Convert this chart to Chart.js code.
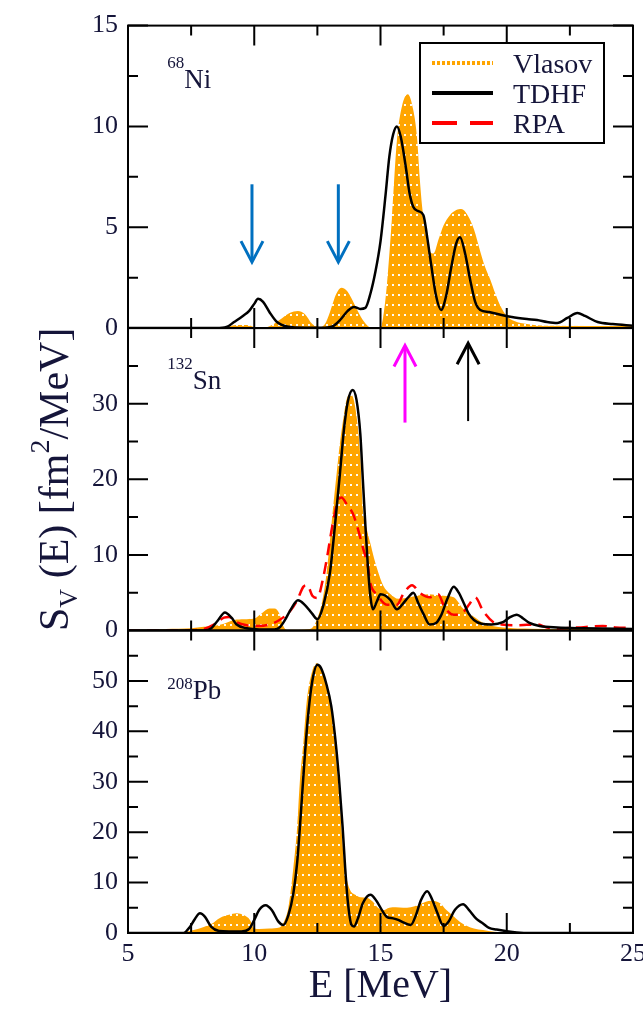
<!DOCTYPE html>
<html><head><meta charset="utf-8">
<script src="https://cdn.jsdelivr.net/npm/chart.js@4.4.1/dist/chart.umd.min.js"></script>
<style>html,body{margin:0;padding:0;background:#fff;}#wrap{width:643px;height:1010px;position:relative}</style>
</head><body><div id="wrap"><canvas id="c" width="643" height="1010"></canvas></div>
<script>
// ---------- DATA ----------
// x axis ticks (E in MeV)
const xTicks = [5, 10, 15, 20, 25];
// y tick labels per panel
const yTicksNi = [0, 5, 10, 15];
const yTicksSn = [0, 10, 20, 30];
const yTicksPb = [0, 10, 20, 30, 40, 50];

// 68Ni
const niTdhfE = [5.0,8.5,8.9,9.2,9.55,9.8,10.0,10.15,10.35,10.6,10.9,11.3,12.0,12.8,13.1,13.4,13.7,13.95,14.2,14.4,14.6,14.8,15.0,15.2,15.35,15.5,15.65,15.8,16.0,16.15,16.3,16.5,16.7,16.85,17.0,17.2,17.4,17.6,17.8,18.0,18.15,18.35,18.55,18.75,18.95,19.3,19.8,20.2,20.8,21.2,21.6,22.0,22.4,22.8,23.1,23.6,24.2,25.0];
const niTdhf  = [0,0,0.05,0.3,0.6,0.85,1.2,1.45,1.3,0.8,0.3,0.08,0.02,0.02,0.08,0.4,0.85,1.05,0.95,1.0,1.7,2.8,4.3,6.6,8.5,9.6,10.0,9.5,8.0,6.7,6.0,5.8,5.6,4.5,3.2,1.6,0.9,1.6,3.0,4.2,4.5,3.7,2.4,1.3,0.9,0.8,0.65,0.55,0.45,0.4,0.3,0.25,0.5,0.75,0.6,0.3,0.2,0.12];
const niVlasovE = [5.0,8.5,8.9,9.3,9.7,10.0,10.4,10.7,11.0,11.4,11.73,12.0,12.3,12.6,12.8,13.0,13.25,13.45,13.7,14.0,14.3,14.6,15.0,15.1,15.25,15.45,15.65,15.85,16.08,16.3,16.45,16.55,16.65,16.8,16.95,17.1,17.3,17.5,17.75,18.0,18.2,18.45,18.7,18.95,19.15,19.35,19.55,19.75,20.0,20.3,20.8,21.5,25.0];
const niVlasov  = [0,0,0.05,0.15,0.15,0.05,0.02,0.15,0.4,0.75,0.85,0.7,0.2,0.05,0.2,0.8,1.7,2.0,1.8,1.1,0.4,0.05,0.05,0.5,2.1,5.4,9.3,11.0,11.6,10.8,9.4,7.5,6.0,4.6,3.8,3.7,4.4,5.1,5.6,5.85,5.9,5.6,4.9,3.8,3.0,2.4,1.7,1.1,0.6,0.35,0.2,0.12,0.1];

// 132Sn
const snTdhfE = [5.0,8.0,8.3,8.55,8.84,9.1,9.3,9.7,10.2,10.8,11.0,11.2,11.45,11.73,12.0,12.3,12.5,12.75,13.0,13.2,13.4,13.55,13.7,13.9,14.05,14.2,14.3,14.4,14.5,14.6,14.7,14.85,15.0,15.2,15.4,15.65,15.9,16.1,16.3,16.5,16.7,16.95,17.2,17.4,17.65,17.9,18.1,18.3,18.5,18.7,19.0,19.4,19.85,20.1,20.4,20.65,20.9,21.3,22.0,23.0,25.0];
const snTdhf  = [0,0.02,0.3,1.3,2.4,1.7,0.8,0.3,0.15,0.15,0.4,1.3,2.8,4.0,3.4,2.2,1.5,3.5,7.7,14,21,26.5,30.2,31.8,30.5,26,20,14,8.5,4.5,2.8,3.8,4.8,4.6,4.0,2.8,3.6,4.4,5.0,3.6,2.2,0.8,1.0,2.0,4.2,5.8,5.0,3.6,2.2,1.4,0.9,0.8,1.1,1.7,2.1,1.6,1.0,0.6,0.4,0.3,0.2];
const snRpaE = [5.0,7.5,8.0,8.4,8.8,9.0,9.3,9.7,10.2,10.6,11.0,11.4,11.7,11.95,12.1,12.3,12.5,12.7,12.9,13.1,13.3,13.45,13.7,13.9,14.1,14.3,14.5,14.6,14.85,15.25,15.65,15.9,16.25,16.55,16.95,17.28,17.55,17.9,18.27,18.5,18.75,19.06,19.47,19.8,20.25,20.8,21.2,21.6,22.0,22.8,23.8,24.3,25.0];
const snRpa  = [0,0.05,0.2,0.8,1.7,1.8,1.1,0.7,0.6,0.8,1.4,2.5,4.0,5.8,6.0,4.6,4.3,6.5,10.0,14.0,17.0,17.6,16.5,15.5,13.5,11.0,8.5,6.2,4.8,3.4,3.4,4.8,6.0,5.0,4.4,4.8,3.0,2.1,2.4,3.4,4.4,2.6,1.1,0.8,0.7,0.75,0.8,0.4,0.25,0.4,0.6,0.4,0.35];
const snVlasovE = [5.0,6.5,7.5,8.0,8.4,8.8,9.2,9.6,10.0,10.3,10.6,10.8,11.0,11.15,11.3,12.2,12.45,12.7,12.87,13.0,13.13,13.27,13.4,13.55,13.66,13.83,14.0,14.19,14.3,14.45,14.6,14.75,14.9,15.1,15.4,15.7,16.0,16.3,16.6,16.9,17.2,17.5,17.9,18.27,18.67,19.14,19.85,21.0,22.0,25.0];
const snVlasov  = [0.05,0.2,0.3,0.5,0.6,0.9,1.4,1.5,1.6,2.3,2.9,2.9,2.2,0.6,0.1,0.2,1.2,4.0,7.7,12,16.5,21,25,28.5,30.6,31.2,29.5,23.5,16,13.5,11.5,9.5,7.8,6.0,4.8,4.2,4.3,4.5,4.7,4.8,4.7,4.6,4.4,2.9,1.9,0.9,0.4,0.25,0.2,0.2];

// 208Pb
const pbTdhfE = [5.0,7.2,7.45,7.65,7.85,8.05,8.3,8.6,9.0,9.5,9.8,10.0,10.2,10.45,10.7,10.95,11.15,11.35,11.55,11.7,11.85,12.0,12.15,12.3,12.5,12.65,12.85,13.05,13.2,13.35,13.5,13.6,13.7,13.85,13.95,14.1,14.3,14.6,14.85,15.05,15.25,15.5,15.7,15.9,16.2,16.4,16.6,16.85,17.05,17.25,17.5,17.7,17.95,18.27,18.5,18.8,19.06,19.3,19.6,20.0,20.4,21.0,25.0];
const pbTdhf  = [0,0,1.2,2.8,3.9,3.2,1.2,0.4,0.3,0.3,0.8,2.6,4.6,5.5,4.5,2.3,1.6,3.5,7.9,14,24,35,44,50,53.2,52.5,49.5,45,39,31,21,13,6.5,1.6,1.3,2.8,5.9,7.6,6.3,4.6,3.2,2.9,2.6,2.1,1.6,3.5,6.5,8.3,6.6,4.0,1.4,2.3,4.6,5.7,4.6,2.8,1.9,1.0,0.7,0.35,0.1,0,0];
const pbVlasovE = [5.0,6.8,7.2,7.6,8.0,8.3,8.64,9.0,9.3,9.6,9.83,10.0,10.2,10.6,11.0,11.2,11.35,11.55,11.7,11.8,11.95,12.08,12.3,12.48,12.7,13.0,13.15,13.28,13.4,13.47,13.55,13.65,13.8,14.0,14.2,14.46,14.7,14.9,15.1,15.35,15.6,15.9,16.2,16.5,16.8,17.0,17.36,17.6,17.87,18.15,18.43,18.7,19.06,19.5,20.0,21.0,25.0];
const pbVlasov  = [0,0,0.2,0.6,1.2,1.8,3.0,3.6,3.9,3.5,2.6,0.9,0.8,0.9,1.1,2.5,5.0,13,21,29.6,38,46,52,53.5,51.5,46,40,32.7,25,19.7,14.5,11,8.5,7.6,7.1,7.0,6.2,5.0,4.5,5.0,5.1,5.0,5.1,5.6,6.2,6.4,5.9,4.6,3.4,2.2,1.4,0.9,0.6,0.25,0.1,0.05,0.05];

// ---------- helpers ----------
const zip = (xs, ys) => xs.map((x, i) => ({x: x, y: ys[i]}));
const ORANGE = '#FFA500';
const NAVY = '#15153a';
const SERIF = "'Liberation Serif', 'DejaVu Serif', serif";

const canvas = document.getElementById('c');
const mainCtx = canvas.getContext('2d');
function makePattern() {
  const p = document.createElement('canvas');
  p.width = 6; p.height = 10;
  const g = p.getContext('2d');
  g.fillStyle = ORANGE; g.fillRect(0, 0, 6, 10);
  g.fillStyle = 'rgba(255,255,255,0.95)'; g.fillRect(2, 4, 2, 2);
  return mainCtx.createPattern(p, 'repeat');
}
const dotPattern = makePattern();

function vlasovDS(pts, axis) {
  return {label: 'Vlasov', data: pts, yAxisID: axis, order: 3, borderWidth: 0, borderColor: ORANGE,
          backgroundColor: dotPattern, fill: 'origin', pointRadius: 0, cubicInterpolationMode: 'monotone'};
}
function tdhfDS(pts, axis) {
  return {label: 'TDHF', data: pts, yAxisID: axis, order: 1, borderWidth: 2.5, borderColor: '#000',
          fill: false, pointRadius: 0, cubicInterpolationMode: 'monotone'};
}
function rpaDS(pts, axis) {
  return {label: 'RPA', data: pts, yAxisID: axis, order: 2, borderWidth: 2.5, borderColor: '#ff0000',
          borderDash: [12, 7], fill: false, pointRadius: 0, cubicInterpolationMode: 'monotone'};
}

// annotation definitions (data coordinates)
const panels = [
  {id: 'yNi', major: yTicksNi, max: 15, mass: '68', sym: 'Ni', lx: 6.55, massY: 12.9, symY: 11.93},
  {id: 'ySn', major: yTicksSn, max: 40, mass: '132', sym: 'Sn', lx: 6.55, massY: 34.6, symY: 31.9},
  {id: 'yPb', major: yTicksPb, max: 60, mass: '208', sym: 'Pb', lx: 6.55, massY: 48.5, symY: 46.5}
];
const arrows = [
  {axis: 'yNi', x: 9.91, from: 7.13, to: 3.27, color: '#0070C0', w: 3},
  {axis: 'yNi', x: 13.33, from: 7.13, to: 3.27, color: '#0070C0', w: 3},
  {axis: 'ySn', x: 15.97, from: 27.5, to: 37.7, color: '#FF00FF', w: 3},
  {axis: 'ySn', x: 18.47, from: 27.7, to: 38.0, color: '#000000', w: 2}
];

function yScale(ticks, max) {
  return {
    type: 'linear', position: 'left', stack: 'panels', stackWeight: 1, min: 0, max: max,
    afterBuildTicks: s => { s.ticks = ticks.map(v => ({value: v})); },
    afterFit: s => { s.width = 128; },
    grid: {display: false, drawTicks: false}, border: {display: false},
    ticks: {color: NAVY, padding: 10, autoSkip: false, font: {family: SERIF, size: 26}}
  };
}

const decor = {
  id: 'decor',
  afterDraw(chart) {
    const ctx = chart.ctx, ca = chart.chartArea, xs = chart.scales.x;
    ctx.save();
    const xMajor = xTicks.slice(1, -1);
    const xMinor = [];
    for (let i = 0; i < xTicks.length - 1; i++) xMinor.push((xTicks[i] + xTicks[i + 1]) / 2);
    panels.forEach(pn => {
      const s = chart.scales[pn.id];
      const top = s.top, bot = s.bottom;
      ctx.strokeStyle = '#000'; ctx.lineWidth = 2;
      ctx.beginPath();
      const step = pn.major[1] - pn.major[0];
      pn.major.slice(1).forEach(v => {
        const y = s.getPixelForValue(v);
        ctx.moveTo(ca.left, y); ctx.lineTo(ca.left + 20, y);
        ctx.moveTo(ca.right, y); ctx.lineTo(ca.right - 20, y);
      });
      for (let v = step / 2; v < pn.max; v += step) {
        const y = s.getPixelForValue(v);
        ctx.moveTo(ca.left, y); ctx.lineTo(ca.left + 10, y);
        ctx.moveTo(ca.right, y); ctx.lineTo(ca.right - 10, y);
      }
      xMajor.forEach(v => {
        const x = xs.getPixelForValue(v);
        ctx.moveTo(x, bot); ctx.lineTo(x, bot - 20);
        ctx.moveTo(x, top); ctx.lineTo(x, top + 20);
      });
      xMinor.forEach(v => {
        const x = xs.getPixelForValue(v);
        ctx.moveTo(x, bot); ctx.lineTo(x, bot - 10);
        ctx.moveTo(x, top); ctx.lineTo(x, top + 10);
      });
      ctx.stroke();
      ctx.strokeRect(ca.left, top, ca.right - ca.left, bot - top);

      // nucleus label
      ctx.fillStyle = NAVY; ctx.textBaseline = 'alphabetic'; ctx.textAlign = 'left';
      const lx = xs.getPixelForValue(pn.lx);
      ctx.font = '17px ' + SERIF;
      ctx.fillText(pn.mass, lx, s.getPixelForValue(pn.massY));
      const mw = ctx.measureText(pn.mass).width;
      ctx.font = '27px ' + SERIF;
      ctx.fillText(pn.sym, lx + mw, s.getPixelForValue(pn.symY));
    });

    // arrows
    ctx.lineCap = 'butt'; ctx.lineJoin = 'miter';
    arrows.forEach(a => {
      const s = chart.scales[a.axis];
      const x = xs.getPixelForValue(a.x), y0 = s.getPixelForValue(a.from), y1 = s.getPixelForValue(a.to);
      const dir = y1 > y0 ? 1 : -1;
      ctx.strokeStyle = a.color; ctx.lineWidth = a.w;
      ctx.beginPath(); ctx.moveTo(x, y0); ctx.lineTo(x, y1 - dir * 2); ctx.stroke();
      ctx.lineWidth = 3;
      ctx.beginPath(); ctx.moveTo(x - 11, y1 - dir * 21); ctx.lineTo(x, y1); ctx.lineTo(x + 11, y1 - dir * 21); ctx.stroke();
    });

    // legend
    const L = {x: 420, y: 43, w: 184, h: 100};
    ctx.fillStyle = '#fff'; ctx.fillRect(L.x, L.y, L.w, L.h);
    ctx.strokeStyle = '#000'; ctx.lineWidth = 2; ctx.strokeRect(L.x, L.y, L.w, L.h);
    const items = [
      {t: 'Vlasov', color: ORANGE, dash: [3, 2], y: 63},
      {t: 'TDHF', color: '#000', dash: [], y: 93},
      {t: 'RPA', color: '#ff0000', dash: [25, 13], y: 123}
    ];
    items.forEach(it => {
      ctx.strokeStyle = it.color; ctx.lineWidth = 4; ctx.setLineDash(it.dash);
      ctx.beginPath(); ctx.moveTo(432, it.y); ctx.lineTo(493, it.y); ctx.stroke();
      ctx.setLineDash([]);
      ctx.fillStyle = NAVY; ctx.font = '28px ' + SERIF; ctx.textBaseline = 'alphabetic';
      ctx.fillText(it.t, 513, it.y + 10);
    });

    // y-axis title S_V (E) [fm^2/MeV]
    const cy = (chart.scales.yNi.bottom + chart.scales.yPb.top) / 2;
    ctx.save();
    ctx.translate(68, cy);
    ctx.rotate(-Math.PI / 2);
    ctx.fillStyle = NAVY; ctx.textBaseline = 'alphabetic'; ctx.textAlign = 'left';
    const segs = [
      {t: 'S', f: 42, dy: 0}, {t: 'V', f: 26, dy: 9}, {t: ' (E) [fm', f: 42, dy: 0},
      {t: '2', f: 28, dy: -19}, {t: '/MeV]', f: 42, dy: 0}
    ];
    let total = 0;
    segs.forEach(sg => { ctx.font = sg.f + 'px ' + SERIF; sg.w = ctx.measureText(sg.t).width; total += sg.w; });
    let px = -total / 2;
    segs.forEach(sg => { ctx.font = sg.f + 'px ' + SERIF; ctx.fillText(sg.t, px, sg.dy); px += sg.w; });
    ctx.restore();

    ctx.restore();
  }
};

Chart.defaults.font.family = SERIF;
new Chart(canvas, {
  type: 'line',
  data: {
    datasets: [
      vlasovDS(zip(niVlasovE, niVlasov), 'yNi'),
      tdhfDS(zip(niTdhfE, niTdhf), 'yNi'),
      vlasovDS(zip(snVlasovE, snVlasov), 'ySn'),
      rpaDS(zip(snRpaE, snRpa), 'ySn'),
      tdhfDS(zip(snTdhfE, snTdhf), 'ySn'),
      vlasovDS(zip(pbVlasovE, pbVlasov), 'yPb'),
      tdhfDS(zip(pbTdhfE, pbTdhf), 'yPb')
    ]
  },
  options: {
    responsive: false, animation: false, devicePixelRatio: 1,
    layout: {padding: {left: 0, right: 10, top: 20, bottom: 0}},
    plugins: {legend: {display: false}, tooltip: {enabled: false}},
    scales: {
      x: {
        type: 'linear', position: 'bottom', min: 5, max: 25,
        afterBuildTicks: s => { s.ticks = xTicks.map(v => ({value: v})); },
        afterFit: s => { s.height = 77; s.paddingLeft = 0; s.paddingRight = 0; },
        grid: {display: false, drawTicks: false}, border: {display: false},
        ticks: {color: NAVY, padding: 6, maxRotation: 0, autoSkip: false, font: {family: SERIF, size: 26}},
        title: {display: true, text: 'E [MeV]', color: NAVY, padding: 0, font: {family: SERIF, size: 40}}
      },
      yPb: yScale(yTicksPb, 60),
      ySn: yScale(yTicksSn, 40),
      yNi: yScale(yTicksNi, 15)
    }
  },
  plugins: [decor]
});
</script></body></html>
